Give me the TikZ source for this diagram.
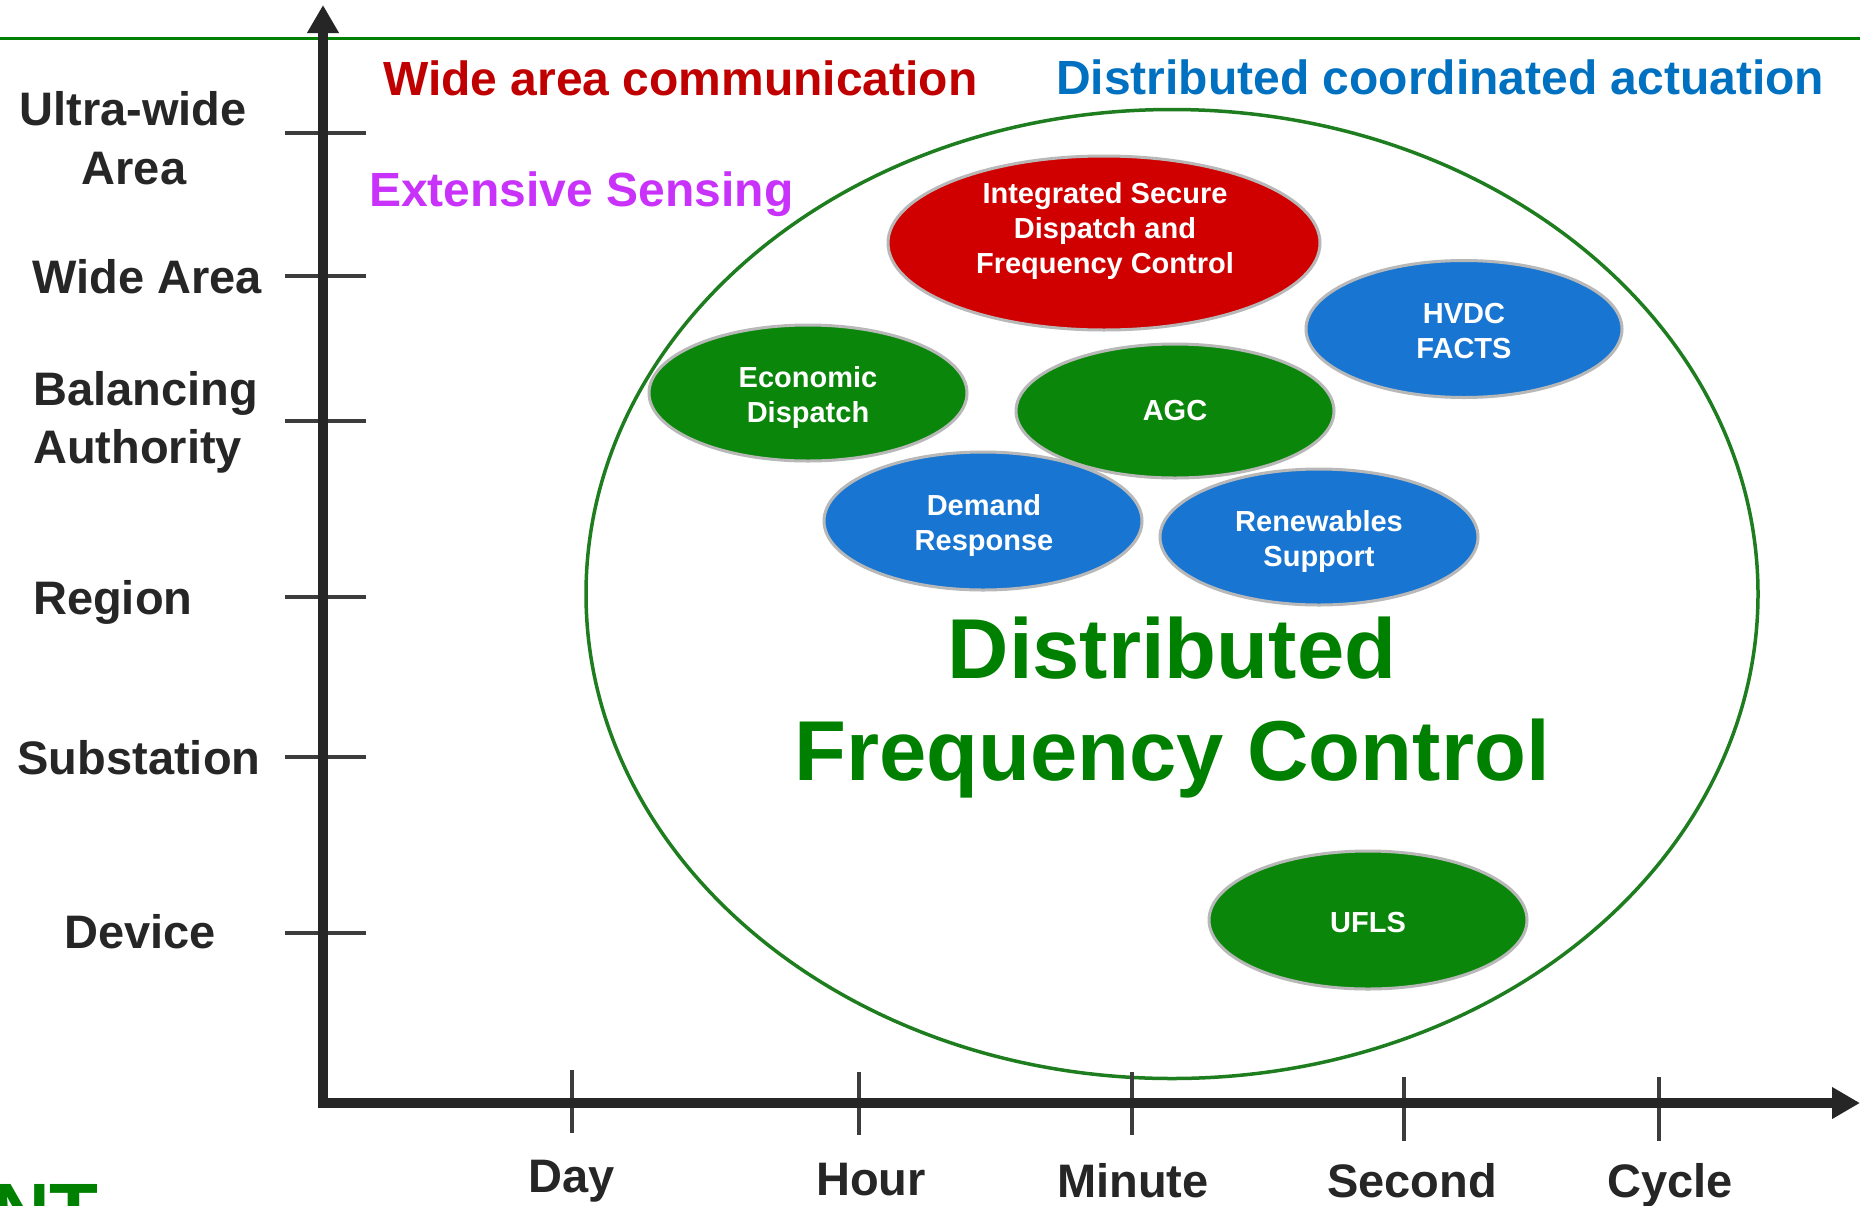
\documentclass[tikz,border=0pt]{standalone}
\usepackage{fontspec}
\setmainfont{Liberation Sans}
\usetikzlibrary{arrows.meta,shapes.geometric}
\definecolor{axisgray}{RGB}{38,38,38}
\definecolor{topgreen}{RGB}{0,128,0}
\definecolor{bigtext}{RGB}{0,128,0}
\definecolor{ringgreen}{RGB}{30,125,30}
\definecolor{ellgreen}{RGB}{10,135,10}
\definecolor{ellblue}{RGB}{24,118,210}
\definecolor{ellred}{RGB}{208,0,0}
\definecolor{wacred}{RGB}{192,0,0}
\definecolor{dcablue}{RGB}{0,112,192}
\definecolor{senspurple}{RGB}{200,50,250}
\newcommand\myfs[2]{\fontsize{#1}{#2}\selectfont\bfseries}
\tikzset{
  axisline/.style={line width=10pt, draw=axisgray, line join=miter,
    {Triangle[length=28pt,width=30pt]}-{Triangle[length=28pt,width=30pt]}},
  tickline/.style={line width=4pt, draw=axisgray!90},
  ylab/.style={inner sep=0pt, text=axisgray, font=\myfs{47}{56}},
  xlab/.style={inner sep=0pt, anchor=base, text=axisgray, font=\myfs{47}{56}},
  toplab/.style={inner sep=0pt, anchor=base west, font=\myfs{48}{58}},
  bubble/.style={ellipse, inner sep=0pt, draw=black!28, line width=3pt},
  bubtext/.style={inner sep=0pt, text=white, align=center, font=\myfs{29}{35}},
  bigtxt/.style={inner sep=0pt, anchor=base, text=bigtext, font=\myfs{85}{102}},
}
\begin{document}
\begin{tikzpicture}[x=1pt,y=-1pt]
\useasboundingbox (0,0) rectangle (1860,1205);
\fill[white] (0,0) rectangle (1860,1205);

% top green rule
\coordinate (gl) at (0,38);
\coordinate (gr) at (1860,38);
\draw[topgreen, line width=3pt] (gl) -- (gr);

% big circle
\node[ellipse, draw=ringgreen, line width=3.5pt, minimum width=1172pt, minimum height=969pt, inner sep=0pt] (ring) at (1172,594) {};

% bubbles
\node[bubble, fill=ellred,   minimum width=432pt, minimum height=174pt] (isd) at (1104,243) {};
\node[bubble, fill=ellblue,  minimum width=316pt, minimum height=137pt] (hvdc) at (1464,329) {};
\node[bubble, fill=ellgreen, minimum width=318pt, minimum height=136pt] (ed) at (808,393) {};
\node[bubble, fill=ellgreen, minimum width=318pt, minimum height=134pt] (agc) at (1175,411) {};
\node[bubble, fill=ellblue,  minimum width=318pt, minimum height=138pt] (dr) at (983,521) {};
\node[bubble, fill=ellblue,  minimum width=318pt, minimum height=136pt] (rs) at (1319,537) {};
\node[bubble, fill=ellgreen, minimum width=318pt, minimum height=138pt] (ufls) at (1368,920) {};

\node[bubtext] (isdt) at (1105,231) {Integrated Secure\\Dispatch and\\Frequency Control};
\node[bubtext] (hvdct) at (1464,331) {HVDC\\FACTS};
\node[bubtext] (edt) at (808,397) {Economic\\Dispatch};
\node[bubtext] (agct) at (1175,411) {AGC};
\node[bubtext] (drt) at (984,525) {Demand\\Response};
\node[bubtext] (rst) at (1319,541) {Renewables\\Support};
\node[bubtext] (uflst) at (1368,923) {UFLS};

% big title
\node[bigtxt] (dist) at (1172,678) {Distributed};
\node[bigtxt] (dfc) at (1172,780) {Frequency Control};

% top labels
\node[toplab, text=wacred] (wac) at (383,95) {Wide area communication};
\node[toplab, text=dcablue] (dca) at (1056,94) {Distributed coordinated actuation};
\node[toplab, text=senspurple] (ext) at (369,206) {Extensive Sensing};

% y labels
\node[ylab, anchor=base] (uw) at (133,125) {Ultra-wide};
\node[ylab, anchor=base] (uwa) at (134,184) {Area};
\node[ylab, anchor=base] (wa) at (147,293) {Wide Area};
\node[ylab, anchor=base west] (ba) at (33,405) {Balancing};
\node[ylab, anchor=base west] (bb) at (33,463) {Authority};
\node[ylab, anchor=base west] (rg) at (33,614) {Region};
\node[ylab, anchor=base] (ss) at (139,774) {Substation};
\node[ylab, anchor=base] (dv) at (140,948) {Device};

% x labels
\node[xlab] (day) at (572,1192) {Day};
\node[xlab] (hour) at (871,1195) {Hour};
\node[xlab] (min) at (1133,1197) {Minute};
\node[xlab] (sec) at (1412,1197) {Second};
\node[xlab] (cyc) at (1670,1197) {Cycle};

% ticks
\foreach \yy in {133,276,421,597,757,933} \draw[tickline] (285,\yy) -- (366,\yy);
\draw[tickline] (572,1070) -- (572,1133);
\draw[tickline] (859,1072) -- (859,1135);
\draw[tickline] (1132,1072) -- (1132,1135);
\draw[tickline] (1404,1077) -- (1404,1141);
\draw[tickline] (1659,1077) -- (1659,1141);

% axes
\coordinate (ytop) at (323,5);
\coordinate (origin) at (323,1103);
\coordinate (xend) at (1860,1103);
\draw[axisline] (ytop) -- (origin) -- (xend);

% logo fragment (cut by the page edge, as in the reference)
\node[inner sep=0pt, anchor=base east, text=topgreen, font=\myfs{80}{90}] (logo) at (99,1239) {NT};
\end{tikzpicture}
\end{document}
